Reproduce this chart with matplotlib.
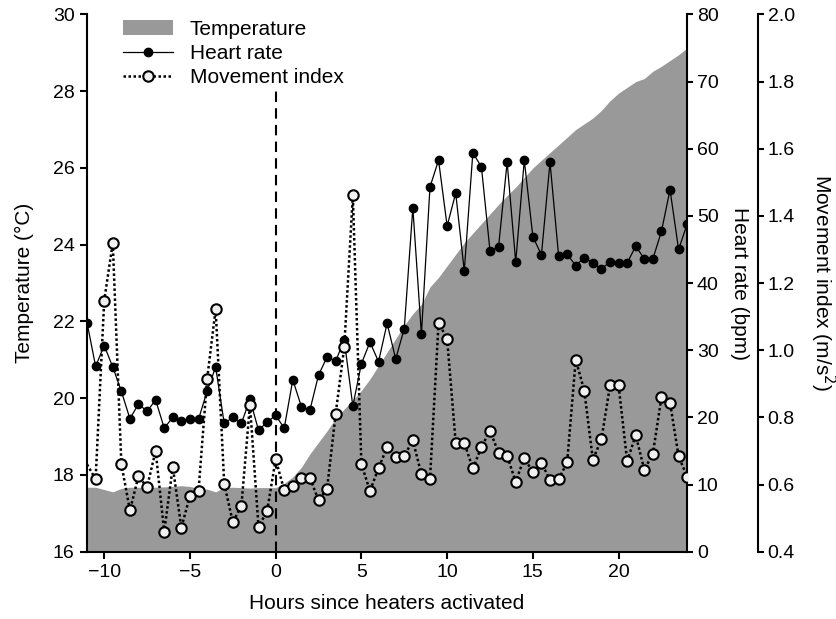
import numpy as np
import matplotlib
matplotlib.use("Agg")
import matplotlib.pyplot as plt
from matplotlib.patches import Patch
from matplotlib.lines import Line2D

plt.rcParams['font.family'] = ['Liberation Sans', 'DejaVu Sans']
plt.rcParams['font.size'] = 15

# Hours since heaters activated (half-hour samples)
hours = np.arange(-11, 24.01, 0.5)

# Temperature (deg C), gray filled area
temperature = [
    17.68, 17.68, 17.62, 17.56, 17.65, 17.68, 17.68, 17.67, 17.68, 17.69,
    17.70, 17.72, 17.70, 17.65, 17.63, 17.56, 17.67, 17.68, 17.67, 17.66,
    17.67, 17.67, 17.67, 17.78, 17.95, 18.20, 18.55, 18.85, 19.15, 19.48,
    19.72, 19.95, 20.20, 20.50, 20.85, 21.20, 21.55, 21.90, 22.20, 22.45,
    22.90, 23.15, 23.45, 23.75, 24.05, 24.30, 24.55, 24.80, 25.05, 25.28,
    25.50, 25.75, 26.00, 26.20, 26.40, 26.60, 26.80, 27.00, 27.15, 27.30,
    27.50, 27.75, 27.95, 28.10, 28.25, 28.33, 28.52, 28.65, 28.80, 28.95,
    29.13,
]

# Heart rate (bpm)
heart_rate = [
    34.1, 27.6, 30.7, 27.5, 23.9, 19.8, 22.0, 20.9, 22.6, 18.4,
    20.0, 19.5, 19.7, 19.7, 23.9, 27.5, 19.1, 20.0, 19.1, 22.7,
    18.1, 19.3, 20.3, 18.4, 25.6, 21.6, 21.1, 26.3, 29.0, 28.4,
    31.5, 21.7, 28.0, 31.2, 28.3, 34.0, 28.7, 33.2, 51.2, 32.4,
    54.3, 58.3, 48.5, 53.4, 41.8, 59.4, 57.3, 44.8, 45.4, 58.0,
    43.1, 58.3, 46.9, 44.2, 58.0, 44.1, 44.3, 42.6, 43.8, 43.0,
    42.1, 43.2, 43.0, 43.0, 45.5, 43.6, 43.6, 47.7, 53.9, 45.0,
    48.8,
]

# Movement index (m/s^2)
movement = [
    0.660, 0.616, 1.147, 1.320, 0.662, 0.523, 0.625, 0.592, 0.701, 0.459,
    0.653, 0.471, 0.567, 0.581, 0.913, 1.123, 0.603, 0.488, 0.536, 0.838,
    0.474, 0.521, 0.675, 0.583, 0.596, 0.620, 0.620, 0.553, 0.588, 0.811,
    1.009, 1.461, 0.661, 0.581, 0.649, 0.711, 0.682, 0.685, 0.732, 0.630,
    0.616, 1.081, 1.034, 0.724, 0.724, 0.648, 0.712, 0.760, 0.695, 0.685,
    0.608, 0.680, 0.636, 0.665, 0.613, 0.616, 0.666, 0.972, 0.879, 0.674,
    0.735, 0.895, 0.895, 0.670, 0.747, 0.644, 0.692, 0.860, 0.844, 0.684,
    0.623,
]

fill_color = '#999999'
spine_w = 1.5
tick_fs = 14

fig = plt.figure(figsize=(8.37, 6.19), dpi=100)
ax = fig.add_axes([0.104, 0.1087, 0.717, 0.868])

# Temperature area
ax.fill_between(hours, 16, temperature, color=fill_color, linewidth=0, zorder=1)
ax.vlines(0, 16, 28, colors='black', linestyles=(0, (5, 3)), linewidth=1.5, zorder=2)
ax.set_xlim(-11, 24)
ax.set_ylim(16, 30)
ax.set_yticks(np.arange(16, 31, 2))
ax.set_xticks([-10, -5, 0, 5, 10, 15, 20])
ax.set_xticklabels(['\u221210', '\u22125', '0', '5', '10', '15', '20'])
ax.set_xlabel('Hours since heaters activated')
ax.xaxis.set_label_coords(0.5, -0.0955)
ax.xaxis.label.set_va('center')
ax.set_ylabel('Temperature (\u00b0C)')
ax.yaxis.set_label_coords(-0.105, 0.5)
ax.yaxis.label.set_va('center')
for s in ['top', 'right']:
    ax.spines[s].set_visible(False)
for s in ['left', 'bottom']:
    ax.spines[s].set_linewidth(spine_w)
ax.tick_params(direction='out', length=5, width=spine_w, pad=4, labelsize=tick_fs)

# Heart rate axis
ax2 = ax.twinx()
ax2.plot(hours, heart_rate, color='black', linewidth=0.9, marker='o',
         markersize=6, markerfacecolor='black', markeredgecolor='black', zorder=3)
ax2.set_ylim(0, 80)
ax2.set_yticks(np.arange(0, 81, 10))
ax2.set_ylabel('Heart rate (bpm)', rotation=270, va='center')
ax2.yaxis.set_label_coords(1.087, 0.5)
for s in ['top', 'left', 'bottom']:
    ax2.spines[s].set_visible(False)
ax2.spines['right'].set_linewidth(spine_w)
ax2.tick_params(direction='out', length=4, width=spine_w, pad=3, labelsize=tick_fs)

# Movement index axis
ax3 = ax.twinx()
ax3.plot(hours, movement, color='black', linewidth=1.8, linestyle=(0, (1, 1)),
         marker='o', markersize=7.5, markerfacecolor='#f0f0f0',
         markeredgecolor='black', markeredgewidth=1.5,
         markevery=list(range(1, len(hours))), zorder=4)
ax3.set_ylim(0.4, 2.0)
ax3.set_yticks(np.arange(0.4, 2.01, 0.2))
ax3.set_yticklabels([f'{v:.1f}' for v in np.arange(0.4, 2.01, 0.2)])
ax3.set_ylabel('Movement index (m/s$^2$)', rotation=270, va='center')
ax3.yaxis.set_label_coords(1.225, 0.5)
for s in ['top', 'left', 'bottom']:
    ax3.spines[s].set_visible(False)
ax3.spines['right'].set_position(('outward', 51))
ax3.spines['right'].set_linewidth(spine_w)
ax3.tick_params(direction='out', length=4, width=spine_w, pad=3, labelsize=tick_fs)

handles = [
    Patch(facecolor=fill_color, edgecolor='none'),
    Line2D([], [], color='black', linewidth=0.9, marker='o', markersize=6),
    Line2D([], [], color='black', linewidth=1.8, linestyle=(0, (1, 1)), marker='o',
           markersize=7.5, markerfacecolor='#f0f0f0', markeredgewidth=1.5),
]
ax3.legend(handles, ['Temperature', 'Heart rate', 'Movement index'],
           loc='upper left', bbox_to_anchor=(0.046, 1.005), frameon=False,
           handlelength=2.4, handletextpad=0.8, labelspacing=0.25,
           borderaxespad=0, numpoints=1, fontsize=15)

plt.savefig('out.png', dpi=100)
